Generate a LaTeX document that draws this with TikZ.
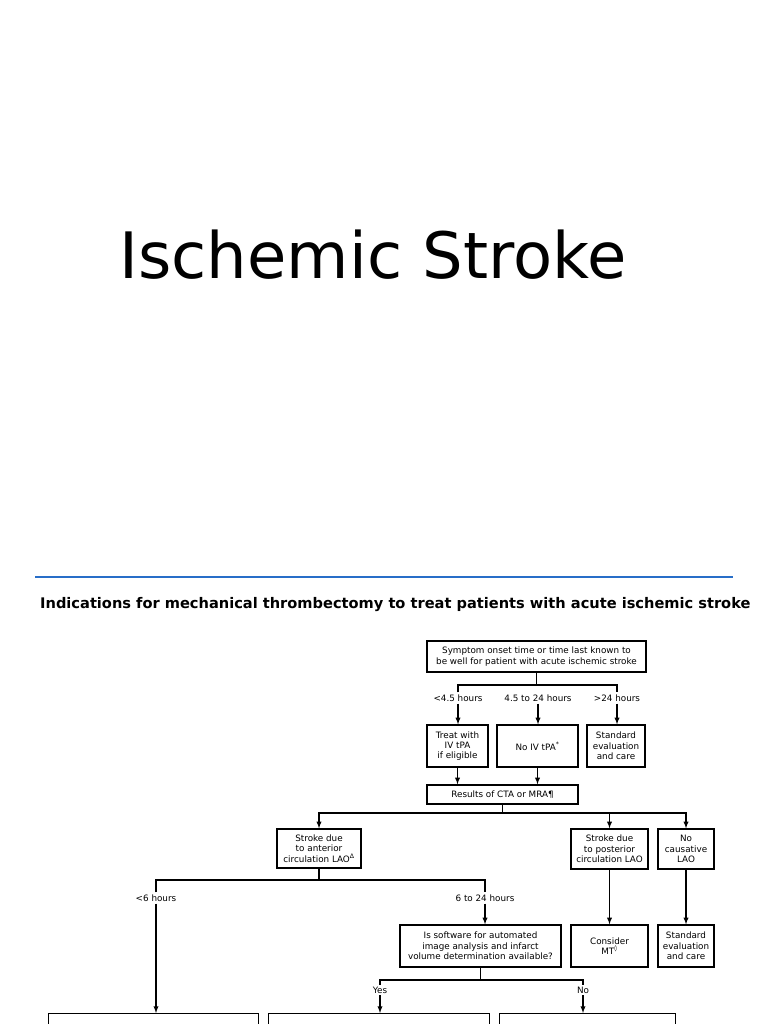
\documentclass[tikz,border=0pt]{standalone}
\usepackage{fontspec}
\setmainfont{DejaVu Sans}
\usetikzlibrary{arrows}
\definecolor{rulebl}{RGB}{40,110,200}
\begin{document}
\begin{tikzpicture}[x=1pt,y=-1pt]

	\tikzstyle{box}=[draw=black,line width=1.3pt,align=center,inner sep=1pt,
		font=\fontsize{8.8}{10.4}\selectfont]
	\tikzstyle{lbl}=[font=\fontsize{8.8}{10.4}\selectfont,inner sep=2pt]
	\tikzstyle{arr}=[line width=1.3pt,-latex]
	\tikzstyle{wire}=[line width=1.3pt]

	\clip (0,0) rectangle (768,1024);
	\fill[white] (0,0) rectangle (768,1024);

	\node (title) at (373,255) {\fontsize{64}{66}\selectfont Ischemic Stroke};
	\draw[rulebl,line width=2pt] (35,577) -- (733,577);
	\node[anchor=west,inner sep=0pt] (head) at (40,605)
		{\fontsize{14.6}{16}\selectfont\bfseries Indications for mechanical thrombectomy to treat patients with acute ischemic stroke};

	% first level
	\node[box,minimum width=219,minimum height=31] (onset) at (536.5,656.5)
		{Symptom onset time or time last known to\\be well for patient with acute ischemic stroke};
	\coordinate (j1) at (536.5,685);
	\node[lbl] (h1) at (458,698) {<4.5 hours};
	\node[lbl] (h2) at (538,698) {4.5 to 24 hours};
	\node[lbl] (h3) at (617,698) {>24 hours};
	\node[box,minimum width=61,minimum height=42] (tpa) at (457.5,746) {Treat with\\IV tPA\\if eligible};
	\node[box,minimum width=81,minimum height=42] (notpa) at (537.5,746) {No IV tPA\textsuperscript{*}};
	\node[box,minimum width=58,minimum height=42] (std1) at (616,746) {Standard\\evaluation\\and care};
	\node[box,minimum width=151,minimum height=19] (res) at (502.5,794.5) {Results of CTA or MRA\P};

	\draw[wire] (onset.south) -- (j1);
	\draw[wire] (h1.north) |- (j1) -| (h3.north);
	\draw[arr] (h1.south) -- (h1.south |- tpa.north);
	\draw[arr] (h2.south) -- (h2.south |- notpa.north);
	\draw[arr] (h3.south) -- (h3.south |- std1.north);
	\draw[arr] (tpa.south) -- (tpa.south |- res.north);
	\draw[arr] (notpa.south) -- (notpa.south |- res.north);

	% second level
	\node[box,minimum width=84,minimum height=39] (ant) at (319,848.5) {Stroke due\\to anterior\\circulation LAO\textsuperscript{Δ}};
	\node[box,minimum width=77,minimum height=40] (post) at (609.5,849) {Stroke due\\to posterior\\circulation LAO};
	\node[box,minimum width=56,minimum height=40] (nolao) at (686,849) {No\\causative\\LAO};
	\coordinate (j2) at (502.5,813);
	\draw[wire] (res.south) -- (j2);
	\draw[arr] (j2) -| (ant.north);
	\draw[arr] (j2) -| (post.north);
	\draw[arr] (j2) -| (nolao.north);

	% third level
	\coordinate (j3) at (319,880);
	\node[lbl] (lt6) at (156,898) {<6 hours};
	\node[lbl] (h624) at (485,898) {6 to 24 hours};
	\node[box,minimum width=161,minimum height=42] (soft) at (480.5,946)
		{Is software for automated\\image analysis and infarct\\volume determination available?};
	\node[box,minimum width=77,minimum height=42] (cons) at (609.5,946) {Consider\\MT\textsuperscript{◊}};
	\node[box,minimum width=56,minimum height=42] (std2) at (686,946) {Standard\\evaluation\\and care};
	\draw[wire] (ant.south) -- (j3);
	\draw[wire] (lt6.north) |- (j3) -| (h624.north);
	\draw[arr] (h624.south) -- (h624.south |- soft.north);
	\draw[arr] (post.south) -- (cons.north);
	\draw[arr] (nolao.south) -- (std2.north);

	% fourth level
	\coordinate (j4) at (480.5,980);
	\node[lbl] (yes) at (380,990) {Yes};
	\node[lbl] (no) at (583,990) {No};
	\node[box,anchor=north west,minimum width=210,minimum height=40,align=left,text width=204,inner sep=2pt] (mt1) at (48,1013) {MT indicated if:};
	\node[box,anchor=north west,minimum width=221,minimum height=40,align=left,text width=215,inner sep=2pt] (mt2) at (268,1013) {MT indicated if treatment can be started};
	\node[box,anchor=north west,minimum width=176,minimum height=40,align=left,text width=170,inner sep=2pt] (mt3) at (499,1013) {Consider MT if:};
	\draw[wire] (soft.south) -- (j4);
	\draw[wire] (yes.north) |- (j4) -| (no.north);
	\draw[arr] (lt6.south) -- (lt6.south |- mt1.north);
	\draw[arr] (yes.south) -- (yes.south |- mt2.north);
	\draw[arr] (no.south) -- (no.south |- mt3.north);

\end{tikzpicture}
\end{document}
